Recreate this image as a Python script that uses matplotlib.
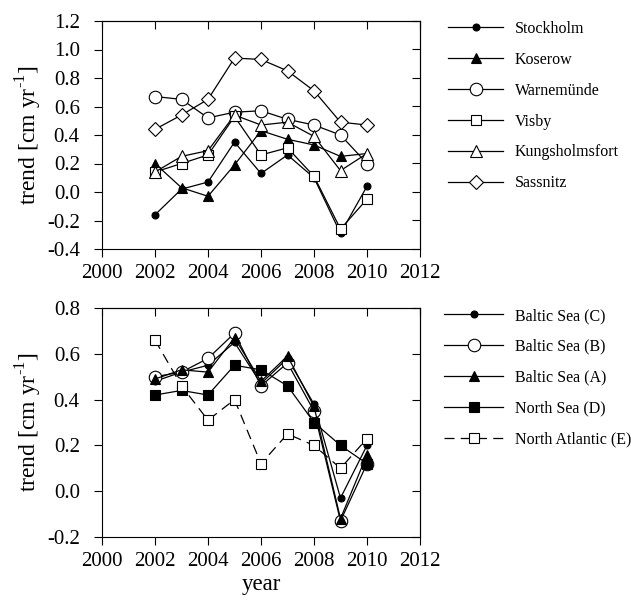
import matplotlib
matplotlib.use("Agg")
import matplotlib.pyplot as plt

plt.rcParams['font.family'] = ['Liberation Serif', 'DejaVu Serif']
plt.rcParams['axes.unicode_minus'] = False
plt.rcParams['mathtext.fontset'] = 'custom'
plt.rcParams['mathtext.rm'] = 'Liberation Serif'

years = [2002, 2003, 2004, 2005, 2006, 2007, 2008, 2009, 2010]

# Top panel: station trends
stockholm = [-0.16, 0.02, 0.07, 0.35, 0.13, 0.26, 0.10, -0.29, 0.04]
koserow = [0.20, 0.03, -0.03, 0.19, 0.43, 0.37, 0.33, 0.25, 0.27]
warnemuende = [0.67, 0.65, 0.52, 0.56, 0.57, 0.51, 0.47, 0.40, 0.20]
visby = [0.14, 0.20, 0.26, 0.53, 0.26, 0.31, 0.11, -0.26, -0.05]
kungsholmsfort = [0.14, 0.25, 0.29, 0.54, 0.47, 0.49, 0.39, 0.15, 0.27]
sassnitz = [0.44, 0.54, 0.65, 0.94, 0.93, 0.85, 0.71, 0.49, 0.47]

# Bottom panel: regional trends
baltic_c = [0.48, 0.52, 0.55, 0.65, 0.47, 0.58, 0.38, -0.03, 0.20]
baltic_b = [0.50, 0.52, 0.58, 0.69, 0.46, 0.56, 0.35, -0.13, 0.12]
baltic_a = [0.49, 0.53, 0.52, 0.67, 0.48, 0.59, 0.37, -0.12, 0.16]
north_sea = [0.42, 0.44, 0.42, 0.55, 0.53, 0.46, 0.30, 0.20, 0.12]
north_atlantic = [0.66, 0.46, 0.31, 0.40, 0.12, 0.25, 0.20, 0.10, 0.23]

top_labels = ["Stockholm", "Koserow", "Warnemünde", "Visby", "Kungsholmsfort", "Sassnitz"]
bottom_labels = ["Baltic Sea (C)", "Baltic Sea (B)", "Baltic Sea (A)", "North Sea (D)", "North Atlantic (E)"]

fig = plt.figure(figsize=(6.31, 6.00), dpi=100)
ax1 = fig.add_axes([102/631, 1-249/600, 318/631, 228/600])
ax2 = fig.add_axes([102/631, 1-537/600, 318/631, 229/600])

lw = 0.9
k = 'black'
w = 'white'

top_series = [
    (stockholm, dict(marker='o', ms=5, mfc=k)),
    (koserow, dict(marker='^', ms=7, mfc=k)),
    (warnemuende, dict(marker='o', ms=9, mfc=w)),
    (visby, dict(marker='s', ms=7, mfc=w)),
    (kungsholmsfort, dict(marker='^', ms=8, mfc=w)),
    (sassnitz, dict(marker='D', ms=7.5, mfc=w)),
]
for (vals, st), lab in zip(top_series, top_labels):
    ax1.plot(years, vals, color=k, lw=lw, mec=k, mew=0.8, label=lab, **st)

bottom_series = [
    (baltic_c, dict(marker='o', ms=5, mfc=k)),
    (baltic_b, dict(marker='o', ms=9, mfc=w)),
    (baltic_a, dict(marker='^', ms=7.5, mfc=k)),
    (north_sea, dict(marker='s', ms=7, mfc=k)),
    (north_atlantic, dict(marker='s', ms=7, mfc=w, dashes=[8, 5])),
]
for (vals, st), lab in zip(bottom_series, bottom_labels):
    ax2.plot(years, vals, color=k, lw=lw, mec=k, mew=0.8, label=lab, **st)

xt = [2000, 2002, 2004, 2006, 2008, 2010, 2012]
for ax, ylim, yt in [(ax1, (-0.4, 1.2), [-0.4, -0.2, 0.0, 0.2, 0.4, 0.6, 0.8, 1.0, 1.2]),
                      (ax2, (-0.2, 0.8), [-0.2, 0.0, 0.2, 0.4, 0.6, 0.8])]:
    ax.set_xlim(2000, 2012)
    ax.set_ylim(*ylim)
    ax.set_xticks(xt)
    ax.set_yticks(yt)
    ax.set_yticklabels(["%.1f" % v for v in yt])
    ax.tick_params(axis='both', which='both', direction='out', length=6, width=0.8,
                   labelsize=15, top=False, right=False)
    ax.tick_params(axis='y', pad=10)
    ax.tick_params(axis='x', pad=5)
    axt = ax.secondary_xaxis('top')
    axt.set_xticks(xt)
    axt.tick_params(direction='in', length=6, width=0.8, labeltop=False)
    axr = ax.secondary_yaxis('right')
    axr.set_yticks(yt)
    axr.tick_params(direction='in', length=6, width=0.8, labelright=False)
    for s in ax.spines.values():
        s.set_linewidth(0.8)
    ax.set_ylabel(r'trend [cm yr$^{\text{-}1}$]', fontsize=17, labelpad=2)

ax2.set_xlabel('year', fontsize=16.5, labelpad=2)

leg_kw = dict(frameon=False, fontsize=11.5, handletextpad=0.75,
              labelspacing=0.93, borderaxespad=0, borderpad=0, numpoints=1)
ax1.legend(loc='upper left', bbox_to_anchor=(448/631, 1-21/600),
           bbox_transform=fig.transFigure, handlelength=3.45, **leg_kw)
ax2.legend(loc='upper left', bbox_to_anchor=(444/631, 1-308/600),
           bbox_transform=fig.transFigure, handlelength=3.7, **leg_kw)

fig.savefig('out.png', dpi=100)
